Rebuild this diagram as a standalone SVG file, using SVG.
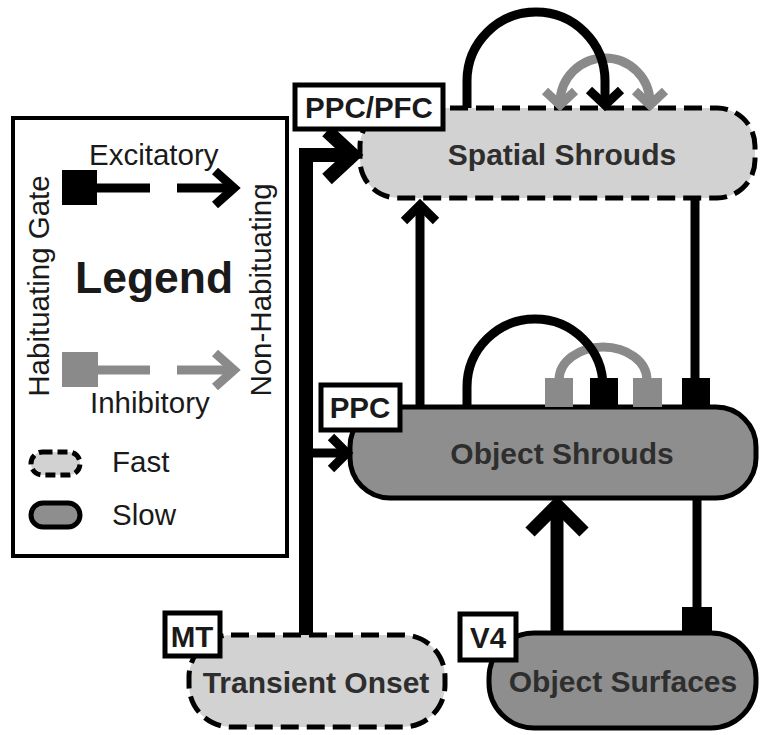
<svg xmlns="http://www.w3.org/2000/svg" width="760" height="735" viewBox="0 0 760 735">
<style>
.fast{fill:#d2d2d2;stroke:#000;stroke-width:5;stroke-dasharray:18 8}
.slow{fill:#8e8e8e;stroke:#000;stroke-width:5}
.ntxt{font-family:"Liberation Sans",Arial,sans-serif;font-weight:bold;font-size:30px;fill:#2e2e2e;text-anchor:middle}
.lbox{fill:#fff;stroke:#000;stroke-width:5}
.ltxt{font-family:"Liberation Sans",Arial,sans-serif;font-weight:bold;font-size:29.5px;fill:#1a1a1a;text-anchor:middle}
.leg{font-family:"Liberation Sans",Arial,sans-serif;font-size:29.5px;fill:#1a1a1a}
.blk{fill:none;stroke:#000;stroke-width:9}
.gry{fill:none;stroke:#8a8a8a;stroke-width:9}
.thick{fill:none;stroke:#000;stroke-width:14}
</style>
<rect width="760" height="735" fill="#fff"/>

<g id="legend">
  <rect x="13" y="118" width="274" height="438" fill="#fff" stroke="#000" stroke-width="4"/>
  <text class="leg" x="89" y="165">Excitatory</text>
  <rect x="62" y="170" width="35" height="35" fill="#000"/>
  <line x1="95" y1="188" x2="150" y2="188" stroke="#000" stroke-width="9"/>
  <line x1="177" y1="188" x2="233" y2="188" stroke="#000" stroke-width="9"/>
  <polyline points="215,171 234,188 215,205" fill="none" stroke="#000" stroke-width="9"/>
  <text class="leg" x="75" y="293" style="font-weight:bold;font-size:44.5px">Legend</text>
  <rect x="62" y="352" width="36" height="35" fill="#8a8a8a"/>
  <line x1="95" y1="370" x2="150" y2="370" stroke="#8a8a8a" stroke-width="9"/>
  <line x1="177" y1="370" x2="233" y2="370" stroke="#8a8a8a" stroke-width="9"/>
  <polyline points="215,353 234,370 215,387" fill="none" stroke="#8a8a8a" stroke-width="9"/>
  <text class="leg" x="90" y="413">Inhibitory</text>
  <text class="leg" transform="translate(49,286) rotate(-90)" text-anchor="middle">Habituating Gate</text>
  <text class="leg" transform="translate(271,290) rotate(-90)" text-anchor="middle">Non-Habituating</text>
  <rect x="31" y="452" width="49" height="23" rx="11.5" fill="#d2d2d2" stroke="#000" stroke-width="5" stroke-dasharray="10 5"/>
  <text class="leg" x="112" y="472">Fast</text>
  <rect x="31" y="503" width="49" height="24" rx="12" fill="#8e8e8e" stroke="#000" stroke-width="5"/>
  <text class="leg" x="112" y="525">Slow</text>
</g>

<g id="spatial-shrouds">
  <rect class="fast" x="360" y="108" width="395" height="90" rx="38"/>
  <text class="ntxt" x="562" y="165">Spatial Shrouds</text>
</g>
<g id="object-shrouds">
  <rect class="slow" x="350" y="407" width="406" height="91" rx="40"/>
  <text class="ntxt" x="562" y="464">Object Shrouds</text>
</g>
<g id="transient-onset">
  <rect class="fast" x="189" y="635" width="256" height="92" rx="42"/>
  <text class="ntxt" x="316" y="693">Transient Onset</text>
</g>
<g id="object-surfaces">
  <rect class="slow" x="489" y="633" width="267" height="95" rx="45"/>
  <text class="ntxt" x="623" y="692">Object Surfaces</text>
</g>

<g id="connectors">
  <path class="thick" d="M306 635 L306 155 L352 155"/>
  <polyline class="thick" points="327,131 353,155 327,179"/>
  <line x1="306" y1="453" x2="346" y2="453" stroke="#000" stroke-width="9"/>
  <polyline class="blk" points="331,437 347,453 331,469"/>
  <line x1="420" y1="407" x2="420" y2="206" stroke="#000" stroke-width="9"/>
  <polyline class="blk" points="404,221 420,205 436,221"/>
  <line x1="695" y1="198" x2="695" y2="380" stroke="#000" stroke-width="9"/>
  <rect x="682" y="378" width="28" height="29" fill="#000"/>
  <path class="gry" d="M560 103 A45 45 0 0 1 650 103"/>
  <polyline class="gry" points="545,91 560,105 575,91"/>
  <polyline class="gry" points="635,91 650,105 665,91"/>
  <path class="blk" d="M467 108 L467 81 A69 69 0 0 1 605 81 L605 104"/>
  <polyline class="blk" points="589,90 605,105 621,90"/>
  <path class="gry" d="M559 380 A44 33 0 0 1 647 380"/>
  <rect x="545" y="378" width="28" height="29" fill="#8a8a8a"/>
  <rect x="633" y="378" width="29" height="29" fill="#8a8a8a"/>
  <path class="blk" d="M467 407 L467 387 A68 68 0 0 1 603 387 L603 380"/>
  <rect x="590" y="378" width="28" height="29" fill="#000"/>
  <line x1="557" y1="633" x2="557" y2="506" stroke="#000" stroke-width="13"/>
  <polyline points="530,532 557,505 584,532" fill="none" stroke="#000" stroke-width="13"/>
  <line x1="697" y1="498" x2="697" y2="610" stroke="#000" stroke-width="9"/>
  <rect x="682" y="607" width="30" height="26" fill="#000"/>
</g>

<g id="labels">
  <g id="label-ppc-pfc"><rect class="lbox" x="295" y="85" width="148" height="44"/><text class="ltxt" x="369" y="118">PPC/PFC</text></g>
  <g id="label-ppc"><rect class="lbox" x="321" y="385" width="79" height="45"/><text class="ltxt" x="360" y="418">PPC</text></g>
  <g id="label-mt"><rect class="lbox" x="165" y="613" width="55" height="43"/><text class="ltxt" x="192" y="647">MT</text></g>
  <g id="label-v4"><rect class="lbox" x="460" y="614" width="56" height="46"/><text class="ltxt" x="488" y="648">V4</text></g>
</g>
</svg>
